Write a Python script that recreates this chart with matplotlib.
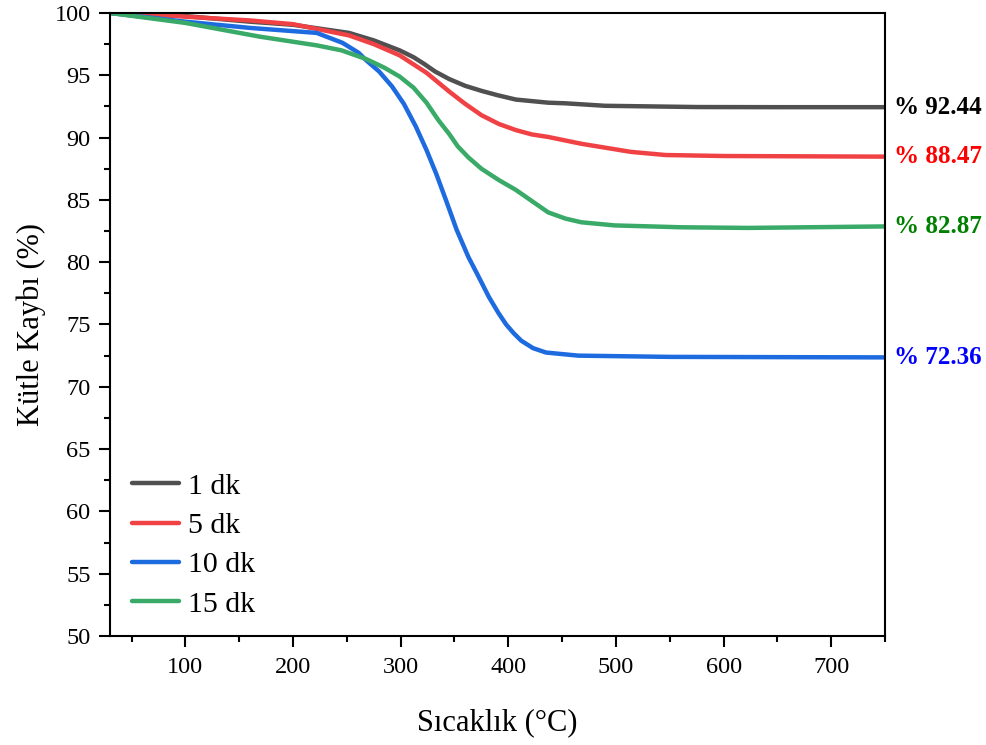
import matplotlib.pyplot as plt
from matplotlib.ticker import MultipleLocator
from matplotlib.transforms import blended_transform_factory

plt.rcParams['font.family'] = ['Liberation Serif', 'DejaVu Serif']
plt.rcParams['mathtext.fontset'] = 'stix'

# Sıcaklık (°C) ve kütle (%) değerleri
t_1dk = [30, 100, 160, 200, 252, 275, 299, 312, 322, 332, 345, 360, 375, 390, 407, 437, 453, 490, 576, 650, 750]
m_1dk = [100, 99.75, 99.3, 99.05, 98.4, 97.8, 97.0, 96.45, 95.9, 95.3, 94.7, 94.15, 93.75, 93.4, 93.05, 92.8, 92.75, 92.55, 92.45, 92.44, 92.44]

t_5dk = [30, 76, 100, 160, 200, 252, 275, 299, 324, 345, 360, 375, 391, 407, 422, 437, 468, 514, 546, 600, 750]
m_5dk = [100, 99.85, 99.7, 99.4, 99.1, 98.2, 97.5, 96.6, 95.2, 93.7, 92.7, 91.8, 91.1, 90.6, 90.25, 90.05, 89.5, 88.85, 88.6, 88.52, 88.47]

t_10dk = [30, 100, 160, 222, 246, 261, 268, 280, 292, 303, 314, 324, 333, 342, 352, 363, 372, 382, 391, 398, 405, 412, 423, 435, 465, 550, 750]
m_10dk = [100, 99.3, 98.8, 98.4, 97.6, 96.8, 96.2, 95.3, 94.1, 92.7, 90.9, 89.0, 87.1, 85.0, 82.6, 80.4, 78.9, 77.2, 75.9, 75.0, 74.3, 73.7, 73.1, 72.75, 72.5, 72.4, 72.36]

t_15dk = [30, 100, 169, 222, 245, 268, 285, 299, 312, 324, 335, 345, 353, 363, 375, 391, 407, 422, 437, 453, 468, 499, 561, 623, 750]
m_15dk = [100, 99.2, 98.1, 97.4, 97.0, 96.3, 95.6, 94.9, 94.0, 92.8, 91.4, 90.3, 89.3, 88.4, 87.5, 86.6, 85.8, 84.9, 84.0, 83.5, 83.2, 82.95, 82.8, 82.75, 82.87]

etiketler = ['1 dk', '5 dk', '10 dk', '15 dk']
son_degerler = [92.44, 88.47, 72.36, 82.87]

cizgi_renk = ['#505050', '#F04245', '#1E6BE0', '#3AAA68']
yazi_renk = ['black', '#FF0000', '#0000FF', '#008000']

fig = plt.figure(figsize=(9.87, 7.45), dpi=100)
ax = fig.add_axes([0.1115, 0.1463, 0.7852, 0.8363])

seriler = [(t_1dk, m_1dk), (t_5dk, m_5dk), (t_10dk, m_10dk), (t_15dk, m_15dk)]
for (t, m), lab, c in zip(seriler, etiketler, cizgi_renk):
    ax.plot(t, m, color=c, lw=3.2, label=lab, solid_capstyle='round', solid_joinstyle='round')

ax.set_xlim(30, 750)
ax.set_ylim(50, 100)
ax.xaxis.set_major_locator(MultipleLocator(100))
ax.xaxis.set_minor_locator(MultipleLocator(50))
ax.yaxis.set_major_locator(MultipleLocator(5))
ax.yaxis.set_minor_locator(MultipleLocator(2.5))
ax.tick_params(which='major', direction='out', length=8, width=1.5, labelsize=17.5)
ax.tick_params(axis='x', which='major', pad=7)
ax.tick_params(axis='y', which='major', pad=6)
ax.tick_params(which='minor', direction='out', length=4.5, width=1.5)
for s in ax.spines.values():
    s.set_linewidth(1.5)

ax.set_xlabel('Sıcaklık (°C)', fontsize=22, labelpad=22)
ax.set_ylabel('Kütle Kaybı (%)', fontsize=22, labelpad=6)

# Son değer etiketleri
tr = blended_transform_factory(ax.transAxes, ax.transData)
for v, c in zip(son_degerler, yazi_renk):
    ax.text(1.012, v, f'% {v:.2f}', transform=tr, color=c, fontsize=18,
            fontweight='bold', va='center', ha='left')

ax.legend(loc='lower left', bbox_to_anchor=(-0.006, -0.014), frameon=False, fontsize=21.5,
          handlelength=1.55, handletextpad=0.3, labelspacing=0.42)

fig.savefig('out.png', dpi=100)
